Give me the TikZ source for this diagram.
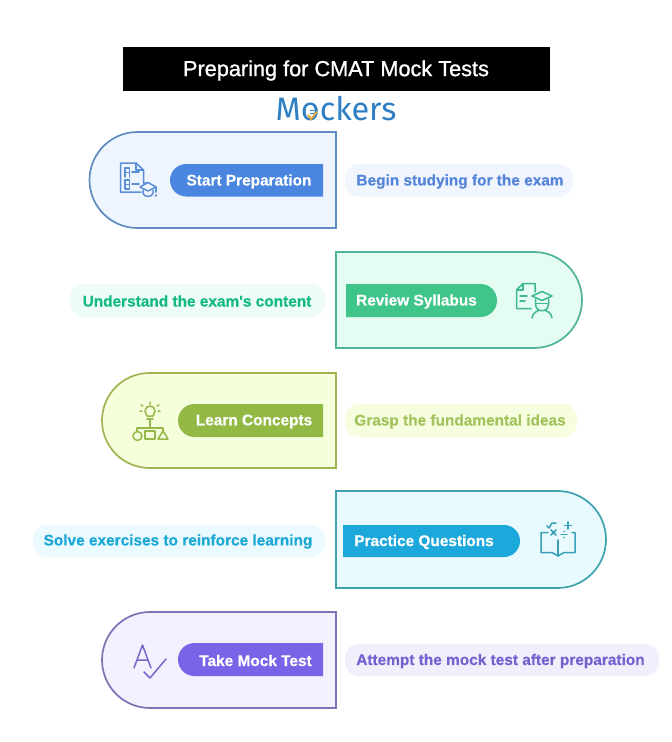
\documentclass[tikz,border=0pt]{standalone}
\usepackage{fontspec}
\setmainfont{Liberation Sans}
\newfontfamily\headfont[FakeBold=1]{Liberation Sans}
\newfontfamily\notefont[FakeBold=0.5]{Liberation Sans Bold}
\newfontfamily\logofont{Fira Sans}
\definecolor{sA}{HTML}{5F8CC0}\definecolor{fA}{HTML}{EFF5FE}\definecolor{pA}{HTML}{4A86E0}\definecolor{lA}{HTML}{F1F5FE}\definecolor{tA}{HTML}{5585D8}
\definecolor{sB}{HTML}{4FB39B}\definecolor{fB}{HTML}{E4FCF1}\definecolor{pB}{HTML}{3FC58A}\definecolor{lB}{HTML}{EDFCF6}\definecolor{tB}{HTML}{12B981}
\definecolor{sC}{HTML}{A0B452}\definecolor{fC}{HTML}{F6FFDC}\definecolor{pC}{HTML}{93B945}\definecolor{lC}{HTML}{F6FEDF}\definecolor{tC}{HTML}{A2C35B}
\definecolor{sD}{HTML}{3FA3AE}\definecolor{fD}{HTML}{E8FAFE}\definecolor{pD}{HTML}{1DA8DB}\definecolor{lD}{HTML}{EBFAFE}\definecolor{tD}{HTML}{1CA8D6}
\definecolor{sE}{HTML}{7C73B5}\definecolor{fE}{HTML}{F3F1FE}\definecolor{pE}{HTML}{7B63E8}\definecolor{lE}{HTML}{F2EFFD}\definecolor{tE}{HTML}{7560D0}
\definecolor{iA}{HTML}{5A8FD8}\definecolor{iB}{HTML}{3DB795}\definecolor{iC}{HTML}{96B84A}\definecolor{iD}{HTML}{3A9FB8}\definecolor{iE}{HTML}{7468C8}
\definecolor{logoblue}{HTML}{2F7FC4}\definecolor{logoorange}{HTML}{E9A93A}
\tikzset{
  x=1pt,y=-1pt,
  panel/.style={line width=1.7pt,line join=miter},
  stepname/.style={font=\notefont\fontsize{15.4}{18}\selectfont,text=white,inner sep=0pt,anchor=center},
  stepnote/.style={font=\notefont\fontsize{15.4}{18}\selectfont,inner sep=0pt,anchor=center},
  icon/.style={line width=1.5pt,line cap=round,line join=round,fill=none},
}
\newcommand{\leftpanel}[5]{\pgfmathsetmacro{\rr}{(#3-#2)/2}\pgfmathsetmacro{\xa}{#1+\rr}
  \filldraw[panel,draw=#4,fill=#5] (336,#2) -- (\xa,#2) arc[start angle=90,end angle=270,radius=\rr pt] -- (336,#3) -- cycle;}
\newcommand{\rightpanel}[5]{\pgfmathsetmacro{\rr}{(#3-#2)/2}\pgfmathsetmacro{\xa}{#1-\rr}
  \filldraw[panel,draw=#4,fill=#5] (336,#2) -- (\xa,#2) arc[start angle=90,end angle=-90,radius=\rr pt] -- (336,#3) -- cycle;}
\newcommand{\pillL}[5]{\pgfmathsetmacro{\rr}{(#4-#3)/2}\pgfmathsetmacro{\xa}{#1+\rr}
  \fill[#5] (#2,#3) -- (#2,#4) -- (\xa,#4) arc[start angle=270,end angle=90,radius=\rr pt] -- cycle;}
\newcommand{\pillR}[5]{\pgfmathsetmacro{\rr}{(#4-#3)/2}\pgfmathsetmacro{\xa}{#2-\rr}
  \fill[#5] (#1,#3) -- (#1,#4) -- (\xa,#4) arc[start angle=-90,end angle=90,radius=\rr pt] -- cycle;}
\begin{document}
\begin{tikzpicture}
\useasboundingbox (0,0) rectangle (672,742);
\fill[white] (0,0) rectangle (672,742);
% header
\fill[black] (123,47) rectangle (549.5,91);
\node[font=\headfont\fontsize{21.7}{24}\selectfont,text=white,inner sep=0pt] (title) at (336,70.5) {Preparing for CMAT Mock Tests};
\node[font=\logofont\fontsize{32.4}{34}\selectfont,text=logoblue,inner sep=0pt] (logo) at (336,108.5) {Mockers};
\draw[logoorange,line width=1.8pt,line cap=round] (308,115) -- (311,119) -- (317,112);
\draw[logoblue,line width=.8pt] (310,110) -- (314,110) (310,113) -- (314,113);
% 1
\leftpanel{89.5}{132}{228}{sA}{fA}
\pillL{170}{323}{164}{196.5}{pA}
\node[stepname] (n1) at (249,181.5) {Start Preparation};
\fill[lA,rounded corners=14pt] (345,164) rectangle (573,196.5);
\node[stepnote,text=tA] (d1) at (460,181.5) {Begin studying for the exam};
\begin{scope}[icon,draw=iA]
\draw (147,183) -- (143.5,183) (143.5,183) -- (143.5,170) -- (136,163) -- (120.5,163) -- (120.5,192) -- (141,192);
\draw (136,163) -- (136,170) -- (143.5,170);
\draw (132,172) -- (139,172) (132,184) -- (139,184);
\draw[line width=1.2pt] (125,177) -- (125,168) -- (129.5,168) -- (129.5,177) (125,172.5) -- (129.5,172.5);
\draw[line width=1.2pt] (125,189) -- (125,180) -- (129.5,180) -- (129.5,189) -- cycle (125,184.5) -- (129.5,184.5);
\draw[fill=fA] (140,187) -- (148,182.5) -- (156,187) -- (148,191) -- cycle;
\draw (143,190) -- (143,193) arc[start angle=180,end angle=360,x radius=5pt,y radius=3.5pt] -- (153,190);
\draw (156,187) -- (156,192) (156,195) -- (156,196);
\end{scope}
% 2
\rightpanel{582}{252}{348}{sB}{fB}
\pillR{346}{497}{284}{317}{pB}
\node[stepname] (n2) at (416.5,301.5) {Review Syllabus};
\fill[lB,rounded corners=14pt] (70,284) rectangle (325,317);
\node[stepnote,text=tB] (d2) at (197,301) {Understand the exam's content};
\begin{scope}[icon,draw=iB]
\draw (535,292) -- (535,283.5) -- (523,283.5) -- (516.5,290) -- (516.5,308.5) -- (531,308.5);
\draw (523,283.5) -- (523,290) -- (516.5,290);
\draw (520,296) -- (527,296) (520,301) -- (525,301);
\draw[fill=fB] (532,296) -- (542,291.5) -- (552,296) -- (542,300.5) -- cycle;
\draw (535.5,299) -- (535.5,304) .. controls (535.5,313) and (548.5,313) .. (548.5,304) -- (548.5,299);
\draw (535.5,303.5) -- (548.5,303.5);
\draw (532,318) .. controls (533,312) and (537,311.5) .. (538.5,310.5) (552,318) .. controls (551,312) and (547,311.5) .. (545.5,310.5);
\end{scope}
% 3
\leftpanel{102}{373}{468}{sC}{fC}
\pillL{178}{323}{404}{437}{pC}
\node[stepname] (n3) at (254,421.5) {Learn Concepts};
\fill[lC,rounded corners=14pt] (345,404) rectangle (577,437);
\node[stepnote,text=tC] (d3) at (460,421.5) {Grasp the fundamental ideas};
\begin{scope}[icon,draw=iC]
\draw (147,416) .. controls (147,414) and (145,413.5) .. (145,411) arc[start angle=180,end angle=0,radius=5pt] .. controls (155,413.5) and (153,414) .. (153,416) -- cycle;
\draw (147,419) -- (153,419) (150,419) -- (150,428);
\draw (150,404) -- (150,402) (143,406) -- (141,405) (157,406) -- (159,405) (142,411) -- (140,411) (158,411) -- (160,411);
\draw (137,428) -- (163,428) (137,428) -- (137,431) (163,428) -- (163,431);
\draw (137.5,436) circle[radius=4.5pt];
\draw (145,431) rectangle (155,439);
\draw (163,431) -- (168,439) -- (158,439) -- cycle;
\end{scope}
% 4
\rightpanel{606}{491}{588}{sD}{fD}
\pillR{343}{520}{525}{557}{pD}
\node[stepname] (n4) at (424,542) {Practice Questions};
\fill[lD,rounded corners=14pt] (33,525) rectangle (325,557);
\node[stepnote,text=tD] (d4) at (178,541.5) {Solve exercises to reinforce learning};
\begin{scope}[icon,draw=iD]
\draw (548,532.5) -- (541,532.5) -- (541,552.5) -- (552,552.5) -- (558,556) -- (564,552.5) -- (575,552.5) -- (575,532.5) -- (572,532.5);
\draw (558,540) -- (558,556);
\draw (547,526) -- (549,528) -- (552,523) -- (556,523);
\draw (568,522) -- (568,529) (564.5,525.5) -- (571.5,525.5);
\draw (551,530) -- (556,535) (556,530) -- (551,535);
\draw (561,534.5) -- (567,534.5);
\fill[iD] (564,531.5) circle[radius=.8pt] (564,537.5) circle[radius=.8pt];
\end{scope}
% 5
\leftpanel{102}{612}{708}{sE}{fE}
\pillL{178}{323}{643}{676}{pE}
\node[stepname] (n5) at (255.5,660.5) {Take Mock Test};
\fill[lE,rounded corners=14pt] (345,644) rectangle (659,676);
\node[stepnote,text=tE] (d5) at (500.5,661) {Attempt the mock test after preparation};
\begin{scope}[icon,draw=iE]
\draw (134,668) -- (142.5,645) -- (151,668) (137,660) -- (148,660);
\draw (144,672) -- (150,678) -- (166,659);
\end{scope}
\end{tikzpicture}
\end{document}
